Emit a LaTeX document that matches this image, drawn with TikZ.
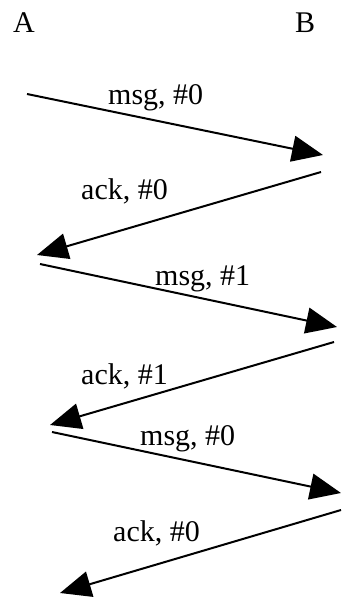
\documentclass[tikz,border=0pt]{standalone}
\usepackage{fontspec}
\setmainfont{Liberation Serif}
\usetikzlibrary{arrows.meta}
\begin{document}
\begin{tikzpicture}[x=1pt,y=-1pt,
  lbl/.style={inner sep=0pt, anchor=base west, font=\fontsize{30}{35}\selectfont},
  msgarrow/.style={line width=2pt, -{Triangle[length=31pt,width=26pt]}}]
\useasboundingbox (0,0) rectangle (341,600);
\node[lbl] (A) at (13,32) {A};
\node[lbl] (B) at (295,32) {B};
\coordinate (s1) at (27,94);   \coordinate (t1) at (323,155);
\coordinate (s2) at (321,172); \coordinate (t2) at (37,255);
\coordinate (s3) at (40,264);  \coordinate (t3) at (337,327);
\coordinate (s4) at (334,342); \coordinate (t4) at (50,425);
\coordinate (s5) at (52,432);  \coordinate (t5) at (341,493);
\coordinate (s6) at (341,510); \coordinate (t6) at (60,593);
\draw[msgarrow] (s1) -- (t1);
\draw[msgarrow] (s2) -- (t2);
\draw[msgarrow] (s3) -- (t3);
\draw[msgarrow] (s4) -- (t4);
\draw[msgarrow] (s5) -- (t5);
\draw[msgarrow] (s6) -- (t6);
\node[lbl] (l1) at (108,104) {msg, \#0};
\node[lbl] (l2) at (81,199) {ack, \#0};
\node[lbl] (l3) at (155,285) {msg, \#1};
\node[lbl] (l4) at (81,384) {ack, \#1};
\node[lbl] (l5) at (140,445) {msg, \#0};
\node[lbl] (l6) at (113,541) {ack, \#0};
\end{tikzpicture}
\end{document}
